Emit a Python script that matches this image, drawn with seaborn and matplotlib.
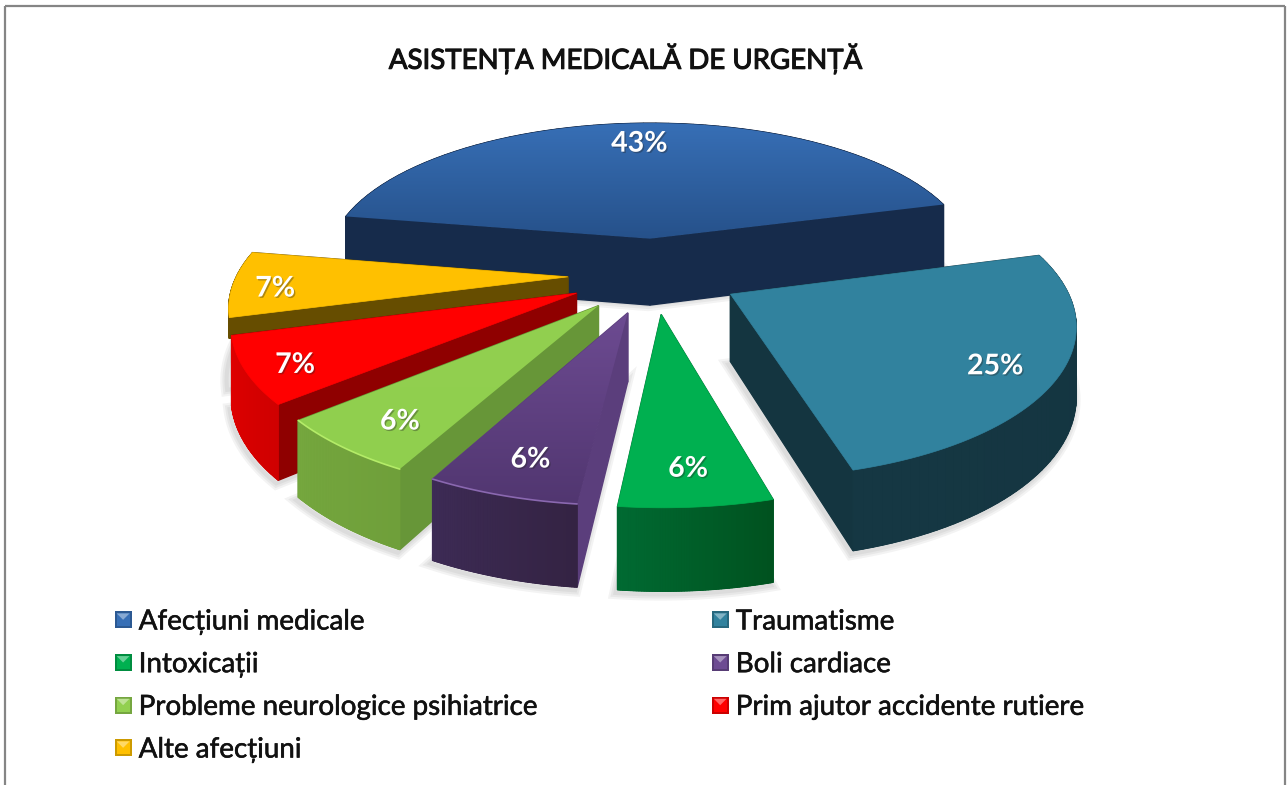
import matplotlib
matplotlib.use("Agg")
import matplotlib.pyplot as plt
import matplotlib.patheffects as pe
from matplotlib.colors import to_rgb
from matplotlib.legend_handler import HandlerBase
from matplotlib.patches import Patch, Polygon, Rectangle
import numpy as np
import seaborn as sns

sns.set_theme(context="notebook", style="white")
plt.rcParams['font.family'] = ['Lato', 'Open Sans', 'DejaVu Sans']

title = "ASISTENȚA MEDICALĂ DE URGENȚĂ"
categories = ["Afecțiuni medicale", "Traumatisme", "Intoxicații", "Boli cardiace",
              "Probleme neurologice psihiatrice", "Prim ajutor accidente rutiere", "Alte afecțiuni"]
percent = [43, 25, 6, 6, 6, 7, 7]

# colours per slice: top surface (far, near), outer wall (left, right), cut faces
top_far = ["#376fb6", "#31829e", "#00b050", "#6d4b92", "#92d050", "#ff0000", "#ffc000"]
top_near = ["#26518a", "#31829e", "#00b050", "#513670", "#90cf4e", "#ff0000", "#ffc000"]
wall_left = ["#162b4b", "#153743", "#006a32", "#3d2b55", "#75a73e", "#e00000", "#664d00"]
wall_right = ["#162b4b", "#143540", "#00521f", "#342343", "#6f9f3a", "#d00000", "#664d00"]
cut_face = ["#162b4b", "#143540", "#006a32", "#5b3e7c", "#679638", "#8f0000", "#664d00"]
rim = [None, None, None, "#8a68b0", "#b4ec68", None, None]
palette = sns.color_palette(top_far)

# perspective set-up, in output pixels
cx, cy = 654, 275
ax_x, ax_y = 331, 146
persp = 0.167
explode = 0.26
height = 66
start = -80.2
draw_order = [0, 6, 5, 4, 3, 2, 1]
wall_depth = [1.05, 1, 1, 1, 1, 1, 0.3]   # yellow wall hides behind red in the original
label_r = [0.8, 0.82, 0.8, 0.8, 0.8, 0.86, 0.875]


def project(X, Y, drop=0.0):
    s = 1 / (1 - persp * Y)
    return cx + ax_x * X * s, cy + ax_y * Y * s + height * s * drop


def slice_outline(a0, a1, n=60):
    mid = np.radians((a0 + a1) / 2)
    vx, vy = explode * np.sin(mid), -explode * np.cos(mid)
    th = np.radians(np.linspace(a0, a1, n))
    return vx, vy, vx + np.sin(th), vy - np.cos(th)


def top_surface(ax, xy, far, near):
    grad = np.linspace(0, 1, 256)[:, None, None]
    img = (1 - grad) * np.array(to_rgb(far)) + grad * np.array(to_rgb(near))
    ymin, ymax = xy[:, 1].min(), xy[:, 1].max()
    im = ax.imshow(img, extent=(xy[:, 0].min(), xy[:, 0].max(), ymax, ymin),
                   aspect='auto', interpolation='bilinear', zorder=2)
    patch = Polygon(xy, closed=True, fc='none', ec='none', transform=ax.transData)
    ax.add_patch(patch)
    im.set_clip_path(patch)
    return im


fig = plt.figure(figsize=(12.88, 7.85), dpi=100, facecolor='white')
ax = fig.add_axes([0, 0, 1, 1])
ax.axis('off')

edges = start + np.cumsum([0] + percent) * 3.6
z = 2
for i in draw_order:
    a0, a1 = edges[i], edges[i + 1]
    vx, vy, arc_x, arc_y = slice_outline(a0, a1)
    n_seg = len(arc_x) - 1
    depth = wall_depth[i]

    # soft shadow below the bottom outline
    bx, by = project(np.r_[vx, arc_x], np.r_[vy, arc_y], 1.0)
    z += 1
    for w in (9, 6, 3):
        ax.add_patch(Polygon(np.c_[bx - 2, by + 3], closed=True, fc='none', ec='#555555',
                             lw=w, alpha=0.07, zorder=z))

    # cut faces
    for ex, ey in ((arc_x[0], arc_y[0]), (arc_x[-1], arc_y[-1])):
        z += 1
        px0, py0 = project(np.array([vx, ex]), np.array([vy, ey]))
        px1, py1 = project(np.array([ex, vx]), np.array([ey, vy]), depth)
        ax.add_patch(Polygon(np.c_[np.r_[px0, px1], np.r_[py0, py1]], closed=True,
                             fc=cut_face[i], ec=cut_face[i], lw=1, zorder=z))

    # outer wall in small steps so the shade can change along it
    z += 1
    shades = sns.blend_palette([wall_left[i], wall_right[i]], n_seg)
    ux, uy = project(arc_x, arc_y)
    lx, ly = project(arc_x, arc_y, depth)
    ax.add_patch(Polygon(np.c_[np.r_[ux, lx[::-1]], np.r_[uy, ly[::-1]]], closed=True,
                         fc=shades[n_seg // 2], ec=shades[n_seg // 2], lw=0.5, zorder=z))
    order = np.argsort(ux[:-1] + ux[1:])
    for j in range(n_seg):
        k = order[j]
        quad = np.array([[ux[k], uy[k]], [ux[k + 1], uy[k + 1]], [lx[k + 1], ly[k + 1]], [lx[k], ly[k]]])
        ax.add_patch(Polygon(quad, closed=True, fc=shades[j], ec=shades[j], lw=0.8, zorder=z))

    # top surface
    z += 1
    tx, ty = project(np.r_[vx, arc_x], np.r_[vy, arc_y])
    xy = np.c_[tx, ty]
    if top_far[i] == top_near[i]:
        ax.add_patch(Polygon(xy, closed=True, fc=palette[i], ec=palette[i], lw=0.5, zorder=z))
    else:
        im = top_surface(ax, xy, top_far[i], top_near[i])
        im.set_zorder(z)
    if rim[i]:
        z += 1
        ax.plot(ux, uy, color=rim[i], lw=1.2, zorder=z)

    # data label sits on the bisector
    mid = np.radians((a0 + a1) / 2)
    lab_X = vx + label_r[i] * np.sin(mid)
    lab_Y = vy - label_r[i] * np.cos(mid)
    lab_x, lab_y = project(lab_X, lab_Y, 0.08 * (lab_Y > 0))
    ax.text(lab_x, lab_y, f"{percent[i]}%", color='white', fontsize=20.5, fontweight='bold',
            ha='center', va='center', zorder=100,
            path_effects=[pe.withSimplePatchShadow(offset=(1, -1), shadow_rgbFace='#222222', alpha=0.35)])

ax.set_xlim(0, 1288)
ax.set_ylim(785, 0)

ax.text(625, 58, title, color='#111111', fontsize=19.9, ha='center', va='center',
        path_effects=[pe.withStroke(linewidth=0.8, foreground='#111111')])

# frame of the original picture, open at the bottom
for xs, ys in (((5.5, 5.5), (785, 5.5)), ((5.5, 1285), (5.5, 5.5)), ((1285, 1285), (5.5, 785))):
    ax.plot(xs, ys, color='#858585', lw=1.6, solid_capstyle='butt')


class BevelHandler(HandlerBase):
    """Small square with a lighter triangle at the top, as the 3-D legend keys."""

    def create_artists(self, legend, orig_handle, xdescent, ydescent, width, height, fontsize, trans):
        c = np.array(to_rgb(orig_handle.get_facecolor()))
        size = 17 * 0.72
        x0, y0 = (width - size) / 2 - xdescent, (height - size) / 2 - ydescent
        base = Rectangle((x0, y0), size, size, fc=c * 0.8, ec='none', transform=trans)
        inner = Rectangle((x0 + 1.5, y0 + 1.5), size - 3, size - 3, fc=c, ec='none', transform=trans)
        tip = Polygon([[x0 + 1.5, y0 + size - 1.5], [x0 + size - 1.5, y0 + size - 1.5],
                       [x0 + size / 2, y0 + size / 2]], fc=np.minimum(c * 0.6 + 0.4, 1), ec='none', transform=trans)
        return [base, inner, tip]


fill_order = [0, 2, 4, 6, 1, 3, 5]
handles = [Patch(facecolor=palette[i]) for i in fill_order]
labels = [categories[i] for i in fill_order]
leg = ax.legend(handles, labels, handler_map={Patch: BevelHandler()}, ncols=2, frameon=False,
                loc='upper left', bbox_to_anchor=(112, 608.5), bbox_transform=ax.transData,
                borderpad=0, borderaxespad=0, fontsize=20, labelspacing=0.6,
                handlelength=0.8, handleheight=0.8, handletextpad=0.16, columnspacing=6.13)
for t in leg.get_texts():
    t.set_color('#111111')
    t.set_path_effects([pe.withStroke(linewidth=0.4, foreground='#111111')])

fig.savefig("out.png", dpi=100, facecolor='white')
